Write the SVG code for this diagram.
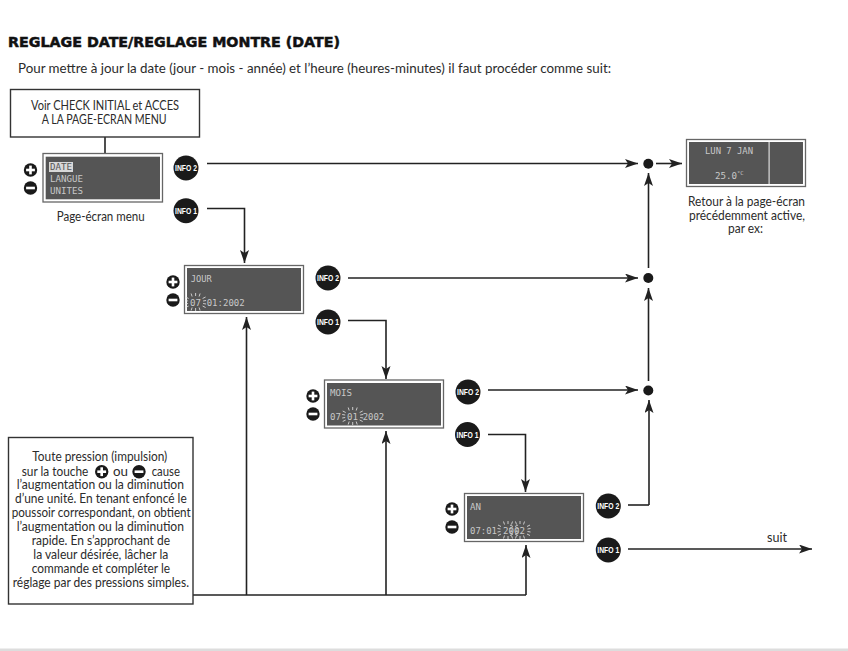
<svg xmlns="http://www.w3.org/2000/svg" width="848" height="651" viewBox="0 0 848 651">
<style>
text{font-family:"Lato","Liberation Sans",sans-serif;fill:#2b2b2b;font-size:13.5px}
.t{lengthAdjust:spacingAndGlyphs}
.title{font-family:"DejaVu Sans",sans-serif;font-weight:700;font-size:13.5px;fill:#111;stroke:#111;stroke-width:.5}
.box{fill:#fff;stroke:#333;stroke-width:1.4}
.scr{fill:#fff;stroke:#666;stroke-width:1.3}
.dark{fill:#555}
text.lcd{font-family:"DejaVu Sans Mono","Liberation Mono",monospace;font-size:9px;fill:#c8c8c8}
.line{fill:none;stroke:#222;stroke-width:1.6}
.rays{fill:none;stroke:#e8e8e8;stroke-width:.8}
.info{fill:#1a1a1a}
text.it{font-family:"Liberation Sans",sans-serif;font-weight:700;font-size:8.5px;fill:#fff}
.sym{fill:#1a1a1a}
.bar{fill:#fff}
</style>
<defs>
<marker id="a" markerUnits="userSpaceOnUse" markerWidth="15" markerHeight="10" refX="13" refY="4.500" orient="auto"><path d="M0 0L13 4.500L0 9L3 4.500Z" fill="#222"/></marker>
<g id="plus"><circle r="6.700" class="sym"/><rect x="-4.400" y="-1.300" width="8.800" height="2.600" class="bar"/><rect x="-1.300" y="-4.400" width="2.600" height="8.800" class="bar"/></g>
<g id="minus"><circle r="6.700" class="sym"/><rect x="-4.400" y="-1.300" width="8.800" height="2.600" class="bar"/></g>
<path id="r" class="rays" d="M-7 -3.500L-10 -5M-7.500 -1L-10.500 -1.500M-7.500 1.500L-10.500 2M-7 4L-10 5.500M-3.500 -5.500L-4.500 -8.500M0 -6L0 -9M3.500 -5.500L4.500 -8.500M7 -3.500L10 -5M7.500 -1L10.500 -1.500M7.500 1.500L10.500 2M7 4L10 5.500M-3.500 5.500L-4.500 8.500M0 6L0 9M3.500 5.500L4.500 8.500"/>
</defs>
<rect width="848" height="651" fill="#fff"/>
<rect y="648.500" width="848" height="2.500" fill="#ddd"/>
<text class="title" x="8" y="46.500" textLength="332" lengthAdjust="spacingAndGlyphs">REGLAGE DATE/REGLAGE MONTRE (DATE)</text>
<text x="18" y="73" textLength="593" lengthAdjust="spacingAndGlyphs">Pour mettre à jour la date (jour - mois - année) et l’heure (heures-minutes) il faut procéder comme suit:</text>
<g id="connectors">
<path class="line" d="M105 137V154"/>
<path class="line" marker-end="url(#a)" d="M207 163.500H638"/>
<path class="line" marker-end="url(#a)" d="M656 163.500H682"/>
<path class="line" marker-end="url(#a)" d="M207 208.500H244.500V263"/>
<path class="line" marker-end="url(#a)" d="M348 278H638"/>
<path class="line" marker-end="url(#a)" d="M348 320.500H386V379"/>
<path class="line" marker-end="url(#a)" d="M488 390H638"/>
<path class="line" marker-end="url(#a)" d="M488 434.500H525.500V492"/>
<path class="line" marker-end="url(#a)" d="M648.500 268V173"/>
<path class="line" marker-end="url(#a)" d="M648.500 381V288"/>
<path class="line" d="M628 505H649"/>
<path class="line" marker-end="url(#a)" d="M649 505V400"/>
<path class="line" marker-end="url(#a)" d="M628 549H812"/>
<path class="line" d="M193 595H526"/>
<path class="line" marker-end="url(#a)" d="M246.500 595V317"/>
<path class="line" marker-end="url(#a)" d="M386 595V431"/>
<path class="line" marker-end="url(#a)" d="M526 595V545"/>
<circle cx="648.300" cy="163.700" r="5" fill="#1a1a1a"/>
<circle cx="648.300" cy="278" r="5" fill="#1a1a1a"/>
<circle cx="648.300" cy="390.500" r="5" fill="#1a1a1a"/>
</g>
<g id="node-start">
<rect class="box" x="10.500" y="89.500" width="189" height="47.500"/>
<text x="31" y="110" textLength="148" lengthAdjust="spacingAndGlyphs">Voir CHECK INITIAL et ACCES</text>
<text x="41.700" y="124" textLength="125" lengthAdjust="spacingAndGlyphs">A LA PAGE-ECRAN MENU</text>
</g>
<g id="node-menu">
<use href="#plus" x="30.500" y="170"/><use href="#minus" x="30.500" y="188"/>
<rect class="scr" x="43" y="153.500" width="119.500" height="48.500"/>
<rect class="dark" x="45.700" y="156.700" width="114.300" height="42.600"/>
<rect x="49" y="162" width="24" height="10" fill="#d8d8d8"/>
<text class="lcd" x="50" y="170" textLength="22" lengthAdjust="spacingAndGlyphs" style="fill:#555">DATE</text>
<text class="lcd" x="50" y="182" textLength="33" lengthAdjust="spacingAndGlyphs">LANGUE</text>
<text class="lcd" x="50" y="194" textLength="33" lengthAdjust="spacingAndGlyphs">UNITES</text>
<text x="56.700" y="221" textLength="88" lengthAdjust="spacingAndGlyphs">Page-écran menu</text>
</g>
<g id="node-info2-a"><circle class="info" cx="186" cy="168" r="12.500"/><text class="it" x="175" y="171" textLength="22" lengthAdjust="spacingAndGlyphs">INFO 2</text></g>
<g id="node-info1-a"><circle class="info" cx="186" cy="210.700" r="12.500"/><text class="it" x="175" y="213.700" textLength="22" lengthAdjust="spacingAndGlyphs">INFO 1</text></g>
<g id="node-lun">
<rect class="scr" x="686.500" y="139.500" width="119" height="47"/>
<rect class="dark" x="689" y="142" width="114" height="42"/>
<rect x="768.500" y="142" width="1.200" height="42" fill="#ddd"/>
<text class="lcd" x="705" y="154" textLength="48" lengthAdjust="spacingAndGlyphs">LUN 7 JAN</text>
<text class="lcd" x="715" y="179" textLength="22" lengthAdjust="spacingAndGlyphs">25.0</text>
<text class="lcd" x="737" y="175" style="font-size:5.500px">°C</text>
<text x="688" y="206" textLength="117" lengthAdjust="spacingAndGlyphs">Retour à la page-écran</text>
<text x="689" y="220" textLength="116" lengthAdjust="spacingAndGlyphs">précédemment active,</text>
<text x="728" y="233" textLength="35" lengthAdjust="spacingAndGlyphs">par ex:</text>
</g>
<g id="node-jour">
<use href="#plus" x="173" y="282"/><use href="#minus" x="173" y="300"/>
<rect class="scr" x="184.500" y="265.500" width="119" height="48"/>
<rect class="dark" x="187" y="268" width="114" height="43"/>
<text class="lcd" x="190.700" y="282" textLength="21" lengthAdjust="spacingAndGlyphs">JOUR</text>
<text class="lcd" x="190" y="306" textLength="11" lengthAdjust="spacingAndGlyphs">07</text>
<use href="#r" x="195.600" y="302"/>
<text class="lcd" x="206.700" y="306" textLength="38" lengthAdjust="spacingAndGlyphs">01:2002</text>
</g>
<g id="node-info2-b"><circle class="info" cx="328" cy="278" r="12.500"/><text class="it" x="317" y="281" textLength="22" lengthAdjust="spacingAndGlyphs">INFO 2</text></g>
<g id="node-info1-b"><circle class="info" cx="328" cy="322" r="12.500"/><text class="it" x="317" y="325" textLength="22" lengthAdjust="spacingAndGlyphs">INFO 1</text></g>
<g id="node-mois">
<use href="#plus" x="313" y="396"/><use href="#minus" x="313" y="414"/>
<rect class="scr" x="324.500" y="380" width="119" height="48"/>
<rect class="dark" x="327" y="383" width="114" height="42.500"/>
<text class="lcd" x="330" y="396" textLength="22" lengthAdjust="spacingAndGlyphs">MOIS</text>
<text class="lcd" x="330" y="420" textLength="11" lengthAdjust="spacingAndGlyphs">07</text>
<use href="#r" x="352.700" y="416"/>
<text class="lcd" x="347" y="420" textLength="11" lengthAdjust="spacingAndGlyphs">01</text>
<text class="lcd" x="362.700" y="420" textLength="21.500" lengthAdjust="spacingAndGlyphs">2002</text>
</g>
<g id="node-info2-c"><circle class="info" cx="468" cy="392" r="12.500"/><text class="it" x="457" y="395" textLength="22" lengthAdjust="spacingAndGlyphs">INFO 2</text></g>
<g id="node-info1-c"><circle class="info" cx="467.500" cy="434.500" r="12.500"/><text class="it" x="456.500" y="437.500" textLength="22" lengthAdjust="spacingAndGlyphs">INFO 1</text></g>
<g id="node-an">
<use href="#plus" x="452" y="509"/><use href="#minus" x="452" y="527"/>
<rect class="scr" x="464.500" y="493.500" width="119" height="48"/>
<rect class="dark" x="467" y="496" width="114" height="43"/>
<text class="lcd" x="470" y="510" textLength="11" lengthAdjust="spacingAndGlyphs">AN</text>
<text class="lcd" x="470" y="533.500" textLength="27" lengthAdjust="spacingAndGlyphs">07:01</text>
<use href="#r" x="508" y="530"/><use href="#r" x="520" y="530"/>
<text class="lcd" x="503" y="533.500" textLength="22" lengthAdjust="spacingAndGlyphs">2002</text>
</g>
<g id="node-info2-d"><circle class="info" cx="608.300" cy="506" r="12.500"/><text class="it" x="597.300" y="509" textLength="22" lengthAdjust="spacingAndGlyphs">INFO 2</text></g>
<g id="node-info1-d"><circle class="info" cx="608.300" cy="550" r="12.500"/><text class="it" x="597.300" y="553" textLength="22" lengthAdjust="spacingAndGlyphs">INFO 1</text></g>
<text x="767" y="542" style="font-size:14px" textLength="20" lengthAdjust="spacingAndGlyphs">suit</text>
<g id="node-note">
<rect class="box" x="8.500" y="437.500" width="184.500" height="166.500"/>
<text x="32.300" y="461" textLength="135" lengthAdjust="spacingAndGlyphs">Toute pression (impulsion)</text>
<text x="21.700" y="475.500" textLength="66.600" lengthAdjust="spacingAndGlyphs">sur la touche</text>
<use href="#plus" x="101.700" y="471.700"/>
<text x="113" y="475.500" textLength="15" lengthAdjust="spacingAndGlyphs">ou</text>
<use href="#minus" x="139" y="471.700"/>
<text x="151.700" y="475.500" textLength="28.300" lengthAdjust="spacingAndGlyphs">cause</text>
<text x="16.700" y="489" textLength="167.300" lengthAdjust="spacingAndGlyphs">l’augmentation ou la diminution</text>
<text x="15" y="503" textLength="171.700" lengthAdjust="spacingAndGlyphs">d’une unité. En tenant enfoncé le</text>
<text x="11.700" y="517" textLength="179" lengthAdjust="spacingAndGlyphs">poussoir correspondant, on obtient</text>
<text x="16.700" y="531" textLength="167.300" lengthAdjust="spacingAndGlyphs">l’augmentation ou la diminution</text>
<text x="31.700" y="545" textLength="138.300" lengthAdjust="spacingAndGlyphs">rapide. En s’approchant de</text>
<text x="33.300" y="559" textLength="135" lengthAdjust="spacingAndGlyphs">la valeur désirée, lâcher la</text>
<text x="31.700" y="573" textLength="138.300" lengthAdjust="spacingAndGlyphs">commande et compléter le</text>
<text x="12.700" y="587" textLength="176.300" lengthAdjust="spacingAndGlyphs">réglage par des pressions simples.</text>
</g>
</svg>
